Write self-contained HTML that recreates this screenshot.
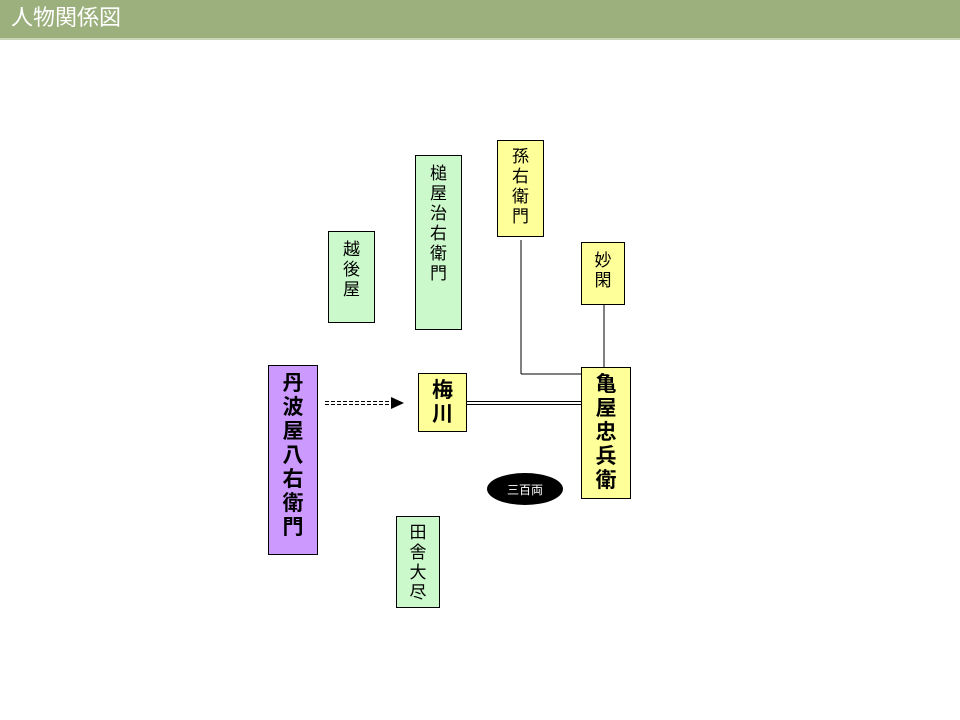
<!DOCTYPE html>
<html><head><meta charset="utf-8"><style>
body{margin:0;width:960px;height:720px;background:#fff;position:relative;overflow:hidden;font-family:"Liberation Sans","Noto Sans CJK JP",sans-serif}
.hd{position:absolute;left:0;top:0;width:960px;height:38px;background:#9bb07c;border-bottom:2px solid #c9d6b8}
.hd span{position:absolute;left:11px;top:5px;color:#fff;font-size:22px;line-height:26px}
.b{position:absolute;box-sizing:border-box;border:1px solid #000;text-align:center;font-size:17px;line-height:20px;font-family:"Noto Sans CJK JP",sans-serif;font-weight:400;color:#000;padding-top:6px}
.g{background:#ccf9cc}.y{background:#ffff99}.p{background:#cc99ff}
.L{font-size:21px;line-height:24px;font-weight:bold;padding-top:6px}
svg{position:absolute;left:0;top:0}
</style></head><body>
<div class="hd"><span>人物関係図</span></div>
<svg width="960" height="720">
<line x1="521" y1="240" x2="521" y2="374" stroke="#000"/>
<line x1="521" y1="374" x2="581" y2="374" stroke="#000"/>
<line x1="604" y1="304" x2="604" y2="367" stroke="#000"/>
<line x1="466" y1="401.5" x2="581" y2="401.5" stroke="#000"/>
<line x1="466" y1="404.5" x2="581" y2="404.5" stroke="#000"/>
<line x1="325" y1="401.5" x2="392" y2="401.5" stroke="#000" stroke-dasharray="4,2"/>
<line x1="325" y1="404.5" x2="392" y2="404.5" stroke="#000" stroke-dasharray="4,2"/>
<polygon points="391,397 404,403 391,409" fill="#000"/>
<ellipse cx="525" cy="489" rx="38" ry="16" fill="#000"/>
<text x="525" y="494" fill="#fff" font-size="12" text-anchor="middle" font-family="Noto Sans CJK JP,sans-serif">三百両</text>
</svg>
<div class="b g" style="left:328px;top:231px;width:47px;height:92px">越<br>後<br>屋</div>
<div class="b g" style="left:415px;top:155px;width:47px;height:175px">槌<br>屋<br>治<br>右<br>衛<br>門</div>
<div class="b y" style="left:497px;top:140px;width:47px;height:97px;padding-top:4px">孫<br>右<br>衛<br>門</div>
<div class="b y" style="left:581px;top:242px;width:44px;height:63px">妙<br>閑</div>
<div class="b p L" style="left:268px;top:365px;width:50px;height:190px;padding-top:4px">丹<br>波<br>屋<br>八<br>右<br>衛<br>門</div>
<div class="b y L" style="left:418px;top:373px;width:49px;height:59px;padding-top:3px">梅<br>川</div>
<div class="b y L" style="left:581px;top:367px;width:50px;height:132px;padding-top:3px">亀<br>屋<br>忠<br>兵<br>衛</div>
<div class="b g" style="left:396px;top:516px;width:44px;height:92px;padding-top:4px">田<br>舎<br>大<br>尽</div>
</body></html>
